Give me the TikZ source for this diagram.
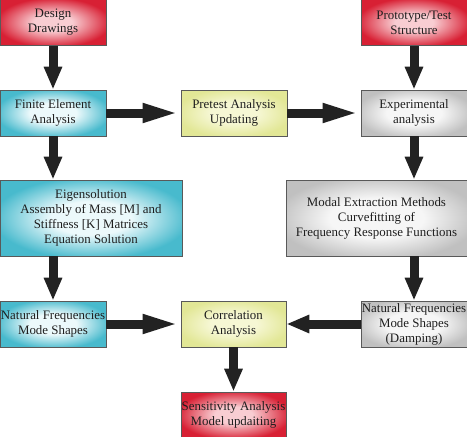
\documentclass[tikz,border=0pt]{standalone}
\usepackage{fontspec}
\setmainfont{Liberation Serif}
\usetikzlibrary{arrows.meta}
\definecolor{cyanout}{RGB}{72,186,205}
\definecolor{cyanin}{RGB}{236,249,251}
\definecolor{redout}{RGB}{216,32,52}
\definecolor{redin}{RGB}{248,205,210}
\definecolor{yelout}{RGB}{226,231,150}
\definecolor{yelin}{RGB}{246,247,212}
\definecolor{grayout}{RGB}{192,192,192}
\definecolor{grayin}{RGB}{246,246,246}
\definecolor{arrowc}{RGB}{34,34,34}
\definecolor{txt}{RGB}{30,30,30}
\pgfdeclareradialshading{cyansh}{\pgfpoint{0bp}{0bp}}{color(0bp)=(cyanin); color(11bp)=(cyanin); color(27bp)=(cyanout); color(50bp)=(cyanout)}
\pgfdeclareradialshading{redsh}{\pgfpoint{0bp}{0bp}}{color(0bp)=(redin); color(9bp)=(redin); color(27bp)=(redout); color(50bp)=(redout)}
\pgfdeclareradialshading{yelsh}{\pgfpoint{0bp}{0bp}}{color(0bp)=(yelin); color(11bp)=(yelin); color(27bp)=(yelout); color(50bp)=(yelout)}
\pgfdeclareradialshading{graysh}{\pgfpoint{0bp}{0bp}}{color(0bp)=(grayin); color(13bp)=(grayin); color(28bp)=(grayout); color(50bp)=(grayout)}
\begin{document}
\begin{tikzpicture}[x=1pt,y=-1pt,
  box/.style={draw=black!65, line width=0.7pt, inner sep=0pt, align=center,
    font=\fontsize{12.9}{15}\selectfont, text=txt},
  cyanbox/.style={box, shading=cyansh},
  redbox/.style={box, shading=redsh},
  yelbox/.style={box, shading=yelsh},
  graybox/.style={box, shading=graysh},
  vsize/.style={minimum width=106pt, minimum height=46pt},
  bigarrow/.style={draw=arrowc, line width=9pt, -{Triangle[width=17pt,length=23pt]}},
  longarrow/.style={draw=arrowc, line width=9pt, -{Triangle[width=17pt,length=38pt]}},
]
\useasboundingbox (0,0) rectangle (467,437);
% row 1
\node[redbox, vsize] (dd) at (53,22.5) {Design\\Drawings};
\node[redbox, vsize] (proto) at (414,22.5) {Prototype/Test\\Structure};
% row 2
\node[cyanbox, vsize] (fea) at (53,113) {Finite Element\\Analysis};
\node[yelbox, vsize] (pre) at (234,113) {Pretest Analysis\\Updating};
\node[graybox, vsize] (exp) at (414,113) {Experimental\\analysis};
% row 3
\node[cyanbox, minimum width=182pt, minimum height=76pt] (eig) at (91,218) {Eigensolution\\Assembly of Mass [M] and\\Stiffness [K] Matrices\\Equation Solution};
\node[graybox, minimum width=181pt, minimum height=76pt] (modal) at (376.5,218) {Modal Extraction Methods\\Curvefitting of\\Frequency Response Functions};
% row 4
\node[cyanbox, vsize] (nfl) at (53,324) {Natural Frequencies\\Mode Shapes};
\node[yelbox, minimum width=105pt, minimum height=46pt] (corr) at (233.5,324) {Correlation\\Analysis};
\node[graybox, vsize] (nfr) at (414,324) {Natural Frequencies\\Mode Shapes\\(Damping)};
% row 5
\node[redbox, minimum width=105pt, minimum height=46pt] (sens) at (233.5,415) {Sensitivity Analysis\\Model updaiting};
% arrows
\draw[bigarrow] (dd.south) -- (fea.north);
\draw[bigarrow] (proto.south) -- (exp.north);
\draw[longarrow] (fea.east) -- (pre.west);
\draw[longarrow] (pre.east) -- (exp.west);
\draw[bigarrow] (fea.south) -- (fea.south |- eig.north);
\draw[bigarrow] (exp.south) -- (exp.south |- modal.north);
\draw[bigarrow] (eig.south -| nfl.north) -- (nfl.north);
\draw[bigarrow] (modal.south -| nfr.north) -- (nfr.north);
\draw[longarrow] (nfl.east) -- (corr.west);
\draw[bigarrow] (nfr.west) -- (corr.east);
\draw[bigarrow] (corr.south) -- (sens.north);
\end{tikzpicture}
\end{document}
